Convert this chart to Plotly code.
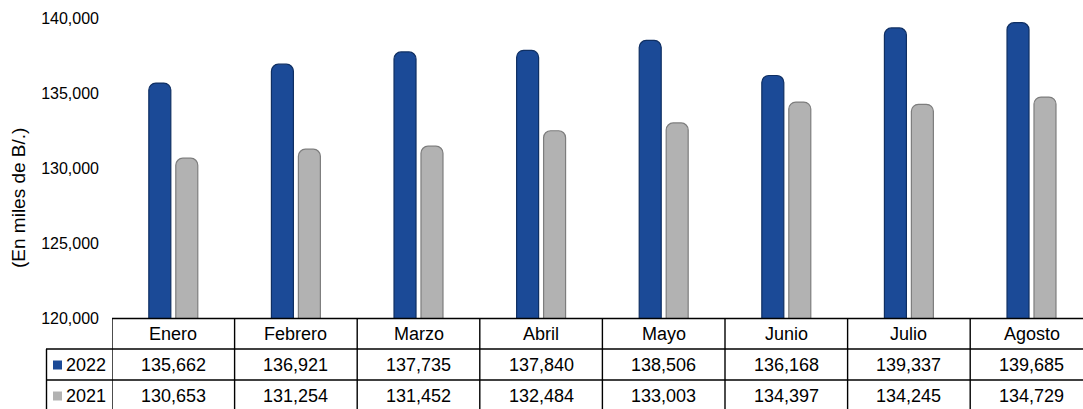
import plotly.graph_objects as go

months = ["Enero", "Febrero", "Marzo", "Abril", "Mayo", "Junio", "Julio", "Agosto"]
series_names = ["2022", "2021"]
values_2022 = [135662, 136921, 137735, 137840, 138506, 136168, 139337, 139685]
values_2021 = [130653, 131254, 131452, 132484, 133003, 134397, 134245, 134729]
y_ticks = [120000, 125000, 130000, 135000, 140000]

colors = ["#1b4a97", "#b2b2b2"]
edge_colors = ["#0f2f63", "#7d7d7d"]
FONT = "Arial, Liberation Sans, sans-serif"

W, H = 1083, 409
L, R, T, B = 112, 0, 18, 91
pw, ph = W - L - R, H - T - B

def px_x(x):
    return (x - L) / pw

def px_y(y):
    return (H - B - y) / ph

xs = list(range(len(months)))
fig = go.Figure()
for name, vals, c, ec in zip(series_names, [values_2022, values_2021], colors, edge_colors):
    fig.add_trace(go.Bar(
        x=xs, y=vals, name=name,
        marker=dict(color=c, line=dict(color=ec, width=1.2), cornerradius=7),
    ))

shapes = []
ann = []
line = dict(color="black", width=1.4)
row_y = [318, 349, 380, 411]
shapes.append(dict(type="line", xref="paper", yref="paper", x0=0, x1=1.02,
                   y0=px_y(318.5), y1=px_y(318.5), line=line))
for y in row_y[1:]:
    shapes.append(dict(type="line", xref="paper", yref="paper", x0=px_x(46), x1=1.02,
                       y0=px_y(y), y1=px_y(y), line=line))
for k in range(len(months) + 1):
    shapes.append(dict(type="line", xref="x", yref="paper", x0=k - 0.5, x1=k - 0.5,
                       y0=px_y(318.5), y1=px_y(411), line=line))
shapes.append(dict(type="line", xref="paper", yref="paper", x0=px_x(46.5), x1=px_x(46.5),
                   y0=px_y(349), y1=px_y(411), line=line))

for k, m in enumerate(months):
    ann.append(dict(x=k, xref="x", y=px_y(334), yref="paper", text=m, showarrow=False,
                    font=dict(family=FONT, size=18, color="black"), xanchor="center", yanchor="middle"))
for r, vals in enumerate([values_2022, values_2021]):
    yc = (row_y[r + 1] + row_y[r + 2]) / 2
    for k, v in enumerate(vals):
        ann.append(dict(x=k, xref="x", y=px_y(yc), yref="paper", text=f"{v:,}", showarrow=False,
                        font=dict(family=FONT, size=18, color="black"), xanchor="center", yanchor="middle"))
    shapes.append(dict(type="rect", xref="paper", yref="paper",
                       x0=px_x(53), x1=px_x(62), y0=px_y(yc - 4), y1=px_y(yc + 5),
                       fillcolor=colors[r], line=dict(width=0)))
    ann.append(dict(x=px_x(64), xref="paper", y=px_y(yc), yref="paper", text=series_names[r],
                    showarrow=False, font=dict(family=FONT, size=18, color="black"),
                    xanchor="left", yanchor="middle"))

ann.append(dict(x=px_x(18), xref="paper", y=px_y(198), yref="paper", text="(En miles de B/.)",
                showarrow=False, textangle=-90, font=dict(family=FONT, size=19, color="black"),
                xanchor="center", yanchor="middle"))

fig.update_layout(
    width=W, height=H,
    margin=dict(l=L, r=R, t=T, b=B, pad=0),
    paper_bgcolor="white", plot_bgcolor="white",
    barmode="group", bargap=0.56, bargroupgap=0.185,
    showlegend=False,
    shapes=shapes, annotations=ann,
    xaxis=dict(range=[-0.5, -0.5 + pw / 122.6], showticklabels=False, showgrid=False,
               zeroline=False, showline=False, ticks=""),
    yaxis=dict(range=[120000, 140000], tickvals=y_ticks, tickformat=",d",
               showgrid=False, zeroline=False, showline=False, ticks="",
               ticklabelstandoff=12,
               tickfont=dict(family=FONT, size=16, color="black")),
)

fig.write_html("out.html", config={"displayModeBar": False})
with open("out.html", encoding="utf-8") as f:
    html = f.read()
html = html.replace("<head>", "<head><style>html,body{margin:0;padding:0;overflow:hidden;}</style>", 1)
with open("out.html", "w", encoding="utf-8") as f:
    f.write(html)
